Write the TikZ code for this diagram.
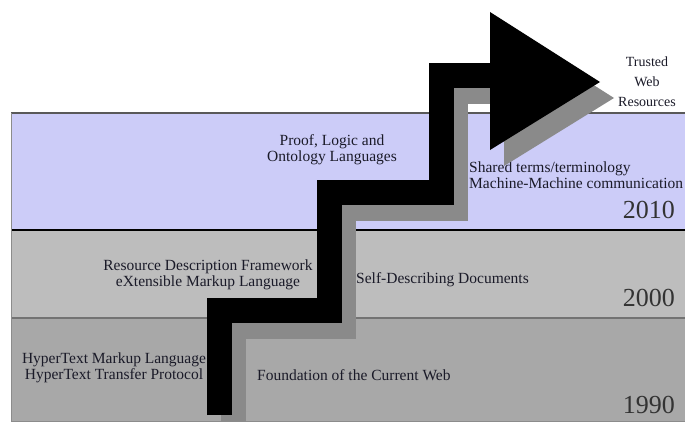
\documentclass[tikz,border=0pt]{standalone}
\usepackage{fontspec}
\setmainfont{Liberation Serif}
\usetikzlibrary{calc}
\definecolor{bandtop}{HTML}{CCCCF8}
\definecolor{bandmid}{HTML}{BDBDBD}
\definecolor{bandlow}{HTML}{A8A8A8}
\definecolor{stepshade}{HTML}{8A8A8A}
\definecolor{labelink}{HTML}{1A1A28}

\begin{document}
\begin{tikzpicture}[x=1pt,y=-1pt,
 every node/.style={font=\fontsize{15.5}{16}\selectfont,text=labelink,inner sep=0pt},
 year/.style={font=\fontsize{26}{28}\selectfont,text=black!80,anchor=east},
 stair/.style={line width=25pt,line join=miter,line cap=butt}]
\useasboundingbox (0,0) rectangle (685,425);
\fill[white] (0,0) rectangle (685,425);
% three periods
\fill[bandtop] (11,113) rectangle (685,230);
\fill[bandmid] (11,230) rectangle (685,318);
\fill[bandlow] (11,318) rectangle (685,421);
\draw[black!65,line width=1.2pt] (11,113) -- (685,113);
\draw[black,line width=1.5pt] (11,230) -- (685,230);
\draw[black!55,line width=1.5pt] (11,318) -- (685,318);
\draw[black!45,line width=0.8pt] (11,113) -- (11,421) -- (685,421);

\node[align=center,font=\fontsize{14}{20}\selectfont] (trusted) at (647,82) {Trusted\\Web\\Resources};
\node[align=center] (proof) at (332,150) {Proof, Logic and\\Ontology Languages};
\node[align=left,anchor=west] (shared) at (469,175) {Shared terms/terminology\\Machine-Machine communication};
\node[year] (y2010) at (675,210) {2010};
\node[align=center] (rdf) at (208,275) {Resource Description Framework\\eXtensible Markup Language};
\node[anchor=west] (selfdesc) at (356,280) {Self-Describing Documents};
\node[year] (y2000) at (675,298) {2000};
\node[align=center] (html) at (114,368) {HyperText Markup Language\\HyperText Transfer Protocol};
\node[anchor=west] (found) at (257,375) {Foundation of the Current Web};
\node[year] (y1990) at (675,405) {1990};

% staircase
\coordinate (s0) at (219.5,415);
\coordinate (s1) at (219.5,310);
\coordinate (s2) at (329.5,310);
\coordinate (s3) at (329.5,192.5);
\coordinate (s4) at (441.5,192.5);
\coordinate (s5) at (441.5,76);
\coordinate (s6) at (495,76);
\coordinate (h1) at (490,12);
\coordinate (h2) at (490,150);
\coordinate (h3) at (600,82);
\begin{scope}
\clip (11,0) rectangle (685,421);
\draw[stair,stepshade] ($(s0)+(14,16)$) -- ($(s1)+(14,16)$) -- ($(s2)+(14,16)$) -- ($(s3)+(14,16)$)
 -- ($(s4)+(14,16)$) -- ($(s5)+(14,16)$) -- ($(s6)+(14,16)$);
\fill[stepshade] ($(h1)+(14,16)$) -- ($(h2)+(14,16)$) -- ($(h3)+(14,16)$) -- cycle;
\end{scope}
\draw[stair] (s0) -- (s1) -- (s2) -- (s3) -- (s4) -- (s5) -- (s6);
\fill (h1) -- (h2) -- (h3) -- cycle;
\end{tikzpicture}
\end{document}
